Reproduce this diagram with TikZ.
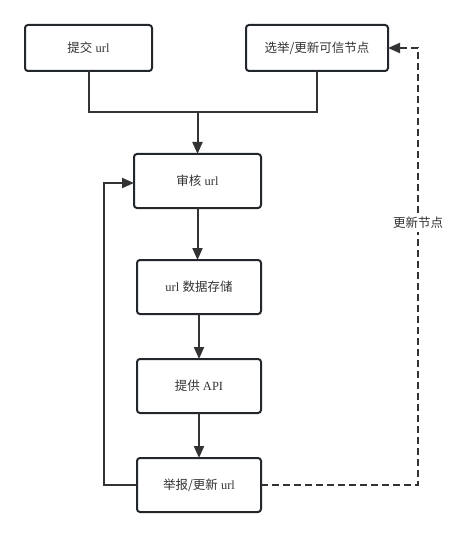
\documentclass[tikz,border=0pt]{standalone}
\usepackage{fontspec}
\setmainfont{Liberation Serif}
\newfontfamily\cjk{Noto Sans CJK SC}
\usetikzlibrary{positioning}
\usetikzlibrary{arrows.meta}
\definecolor{linec}{HTML}{333333}
\definecolor{boxc}{HTML}{23272B}

\begin{document}
\begin{tikzpicture}[
		x=1pt, y=1pt,
		mybox/.style={
			rectangle,
			draw=boxc,
			line width=2pt,
			outer sep=0pt,
			rounded corners=3pt,
			minimum width=124pt,
			minimum height=54pt,
			text=linec,
			font={\fontsize{12.5}{14}\selectfont},
			align=center
		},
		myline/.style={draw=linec, line width=2pt},
		myarrow/.style={myline, -{Triangle[length=12pt, width=10pt]}}
		]
		
		\useasboundingbox (0,0) rectangle (459,-537);
		
		\node[
		mybox,
		minimum width=127pt,
		minimum height=46pt
		] (submit) at (88.5,-48) {{\cjk 提交} url};
		
		\node[
		mybox,
		minimum width=142pt,
		minimum height=46pt,
		right=94pt of submit
		] (elect) {\cjk 选举/更新可信节点};
		
		\node[
		mybox,
		minimum width=127pt
		] (review) at (197.5,-181) {{\cjk 审核} url};
		
		\node[mybox, below=52pt of review, xshift=1.5pt] (store) {url {\cjk 数据存储}};
		
		\node[mybox, below=45pt of store] (api) {{\cjk 提供} API};
		
		\node[mybox, below=45pt of api] (report) {{\cjk 举报/更新} url};
		
		\coordinate (merge) at (review.north |- 0,-112);
		\coordinate (backleft) at ([xshift=-33pt]report.west);
		\coordinate (backright) at ([xshift=157pt]report.east);
		
		%%%%%%%%%%
		
		\draw[myline] (submit.south) |- (merge) -| (elect.south);
		\draw[myarrow] (merge) -- (review.north);
		
		\draw[myarrow] (review.south) -- (review.south |- store.north);
		\draw[myarrow] (store.south) -- (api.north);
		\draw[myarrow] (api.south) -- (report.north);
		
		\draw[myarrow] (report.west) -- (backleft) |- ([yshift=-2pt]review.west);
		
		\draw[myarrow, dash pattern=on 7pt off 4pt] (report.east) -- (backright) |- (elect.east)
		node[pos=0.3, fill=white, text=linec, font={\fontsize{12.5}{14}\selectfont\cjk}] (label) {更新节点};
		
	\end{tikzpicture}
\end{document}
